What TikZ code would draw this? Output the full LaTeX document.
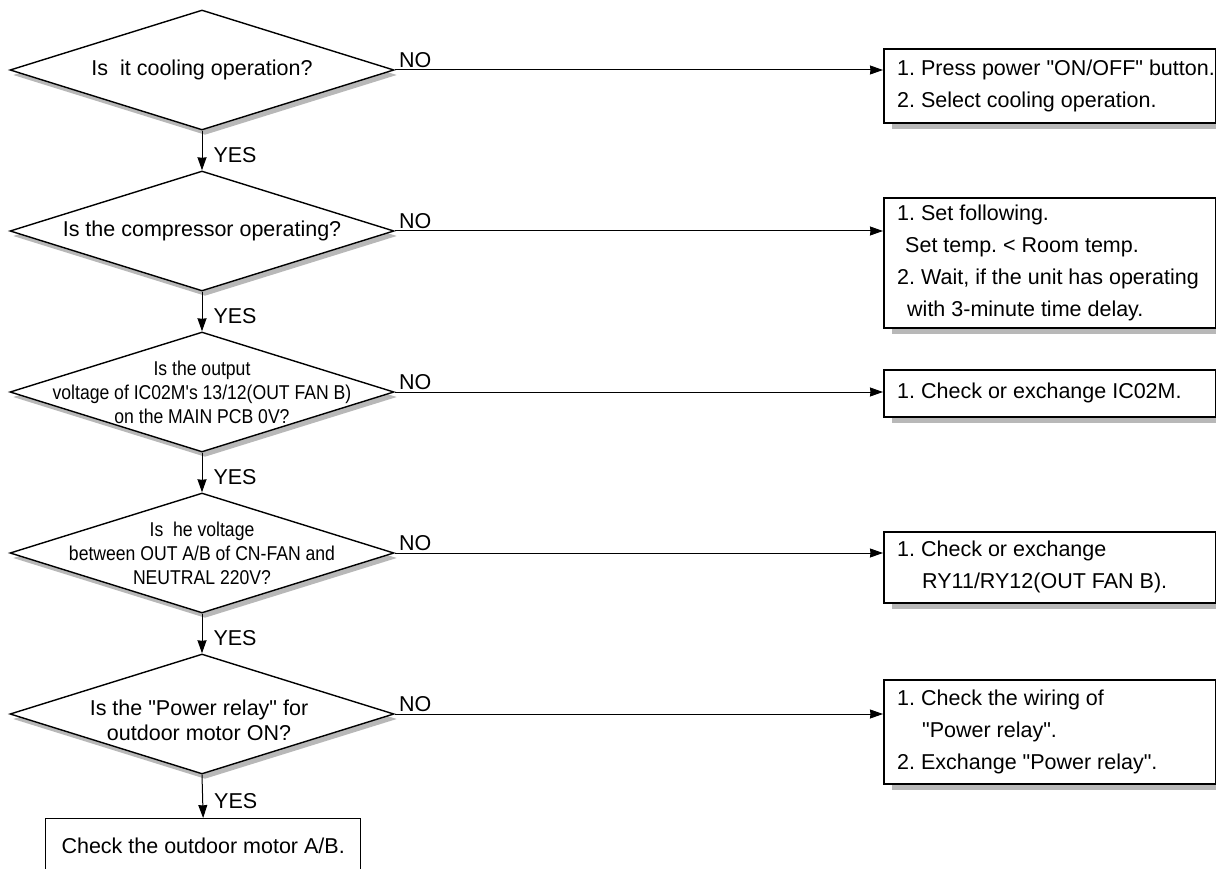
\documentclass[tikz,border=0pt]{standalone}
\usepackage{fontspec}
\setmainfont{Liberation Sans}[Ligatures = TeXOff]
\newfontfamily\narrowfont{Liberation Sans}[Ligatures = TeXOff, FakeStretch = 0.88]
\usetikzlibrary{shapes.geometric, shadows, arrows.meta}
\frenchspacing

\begin{document}
\begin{tikzpicture}[x = 1pt, y = -1pt,
    every node/.style = {font = \fontsize{21.5}{32}\selectfont},
    question/.style = {diamond, draw, line width = 1.4pt, fill = white, minimum width = 384pt, minimum height = 120pt, inner sep = 0pt,
        drop shadow = {shadow xshift = 3pt, shadow yshift = -5pt, opacity = 1, fill = black!28}},
    qtext/.style = {align = center, inner sep = 0pt},
    fixbox/.style = {rectangle, draw, line width = 1.6pt, fill = white, minimum width = 332pt, anchor = north west,
        drop shadow = {shadow xshift = 8pt, shadow yshift = -6pt, opacity = 1, fill = black!28}},
    fixtext/.style = {anchor = west, align = left, inner sep = 0pt},
    endbox/.style = {rectangle, draw, line width = 1.3pt, fill = white, minimum width = 315pt, minimum height = 54pt, anchor = north west},
    flow/.style = {line width = 1pt, -{Stealth[length = 13pt, width = 9pt, inset = 0.5pt]}},
    yes/.style = {pos = 0.62, anchor = west, inner sep = 0pt, xshift = 11pt},
    no/.style = {pos = 0, anchor = south west, inner sep = 0pt, xshift = 4pt, yshift = 2pt}]
    \useasboundingbox (0,0) rectangle (1216,869);
    \clip (0,0) rectangle (1216,869);

    % questions
    \node[question] (q1) at (202,70) {};
    \node[qtext] (q1 text) at (q1) {Is\ \ it cooling operation?};
    \node[question] (q2) at (202,231) {};
    \node[qtext] (q2 text) at (q2) {Is the compressor operating?};
    \node[question] (q3) at (202,392) {};
    \node[qtext, font = \narrowfont\fontsize{20}{24}\selectfont] (q3 text) at (q3)
        {Is the output\\voltage of IC02M's 13/12(OUT FAN B)\\on the MAIN PCB 0V?};
    \node[question] (q4) at (202,553) {};
    \node[qtext, font = \narrowfont\fontsize{20}{24}\selectfont] (q4 text) at (q4)
        {Is\ \ he voltage\\between OUT A/B of CN-FAN and\\NEUTRAL 220V?};
    \node[question] (q5) at (202,714) {};
    \node[qtext, font = \fontsize{21.5}{25}\selectfont] (q5 text) at (199,720)
        {Is the "Power relay" for\\outdoor motor ON?};

    % remedies
    \node[fixbox, minimum height = 74pt] (fix1) at (883,48) {};
    \node[fixtext] (fix1 text) at ([xshift = 14pt]fix1.west)
        {1. Press power "ON/OFF" button.\\2. Select cooling operation.};
    \node[fixbox, minimum height = 130pt] (fix2) at (883,197) {};
    \node[fixtext] (fix2 text) at ([xshift = 14pt]fix2.west)
        {1. Set following.\\\hspace*{8pt}Set temp. < Room temp.\\2. Wait, if the unit has operating\\\hspace*{10pt}with 3-minute time delay.};
    \node[fixbox, minimum height = 47pt] (fix3) at (883,369) {};
    \node[fixtext] (fix3 text) at ([xshift = 14pt]fix3.west) {1. Check or exchange IC02M.};
    \node[fixbox, minimum height = 71pt] (fix4) at (883,531) {};
    \node[fixtext] (fix4 text) at ([xshift = 14pt]fix4.west)
        {1. Check or exchange\\\hspace*{25pt}RY11/RY12(OUT FAN B).};
    \node[fixbox, minimum height = 104pt] (fix5) at (883,679) {};
    \node[fixtext] (fix5 text) at ([xshift = 14pt]fix5.west)
        {1. Check the wiring of\\\hspace*{25pt}"Power relay".\\2. Exchange "Power relay".};

    \node[endbox] (check) at (45,818) {Check the outdoor motor A/B.};

    % YES path
    \draw[flow] (q1.south) -- node[yes] {YES} (q2.north);
    \draw[flow] (q2.south) -- node[yes] {YES} (q3.north);
    \draw[flow] (q3.south) -- node[yes] {YES} (q4.north);
    \draw[flow] (q4.south) -- node[yes] {YES} (q5.north);
    \draw[flow] (q5.south) -- node[yes] {YES} (check.north);

    % NO path
    \draw[flow] (q1.east) -- node[no] {NO} (q1.east -| fix1.west);
    \draw[flow] (q2.east) -- node[no] {NO} (q2.east -| fix2.west);
    \draw[flow] (q3.east) -- node[no] {NO} (q3.east -| fix3.west);
    \draw[flow] (q4.east) -- node[no] {NO} (q4.east -| fix4.west);
    \draw[flow] (q5.east) -- node[no] {NO} (q5.east -| fix5.west);
\end{tikzpicture}
\end{document}
